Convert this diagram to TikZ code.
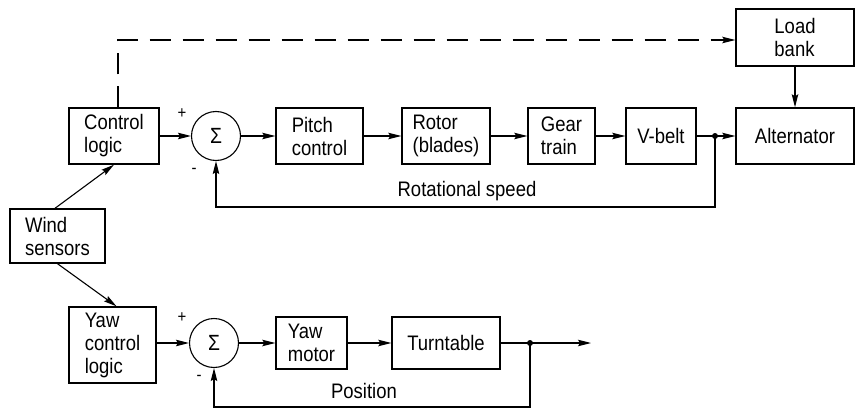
\documentclass[tikz,border=0pt]{standalone}
\usepackage{fontspec}
\setmainfont{Liberation Sans}[FakeStretch=0.88]
\usetikzlibrary{arrows.meta,calc}

\tikzset{
  blk/.style={draw, line width=1.4pt, align=left, inner sep=0pt,
    font=\fontsize{21}{23}\selectfont},
  sumnode/.style={draw, circle, line width=1.1pt, minimum size=49pt, inner sep=0pt,
    font=\fontsize{22}{24}\selectfont},
  lbl/.style={font=\fontsize{21}{23}\selectfont, inner sep=0pt},
  sgn/.style={font=\fontsize{17}{19}\selectfont, inner sep=0pt},
  arr/.style={line width=1.1pt, -{Stealth[length=13pt,width=6.5pt,inset=2pt]}},
  ln/.style={line width=1.1pt},
  jdot/.style={circle, fill=black, inner sep=0pt, minimum size=6pt},
}

\begin{document}
\begin{tikzpicture}[x=1pt, y=-1pt]
\useasboundingbox (0,0) rectangle (856,409);

% upper loop: rotor speed control
\node[blk, minimum width=90pt, minimum height=56pt] (ctrl) at (114,136) {Control\\logic};
\node[sumnode] (sum1) at (216,136) {Σ};
\node[blk, minimum width=87pt, minimum height=56pt] (pitch) at (319.5,136) {Pitch\\control};
\node[blk, minimum width=88pt, minimum height=56pt] (rotor) at (446,136) {Rotor\\(blades)};
\node[blk, minimum width=67pt, minimum height=56pt] (gear) at (561.5,136) {Gear\\train};
\node[blk, minimum width=70pt, minimum height=56pt] (vbelt) at (661,136) {V-belt};
\node[blk, minimum width=118pt, minimum height=56pt] (alt) at (795,136) {Alternator};
\node[blk, minimum width=118pt, minimum height=57pt] (load) at (795,37.5) {Load\\bank};
\node[jdot] (dot1) at (715,136) {};
\coordinate (fb1) at (0,207);

% sensors
\node[blk, minimum width=95pt, minimum height=54pt] (wind) at (57.5,236) {Wind\\sensors};

% lower loop: yaw control
\node[blk, minimum width=87pt, minimum height=76pt] (yawctl) at (112.5,345) {Yaw\\control\\logic};
\node[sumnode] (sum2) at (214,343) {Σ};
\node[blk, minimum width=71pt, minimum height=52pt] (yawmot) at (311.5,343) {Yaw\\motor};
\node[blk, minimum width=108pt, minimum height=52pt] (turn) at (446,343) {Turntable};
\node[jdot] (dot2) at (530,343) {};
\coordinate (out) at (591,343);
\coordinate (fb2) at (0,407);

% forward paths, upper loop
\draw[arr] (ctrl.east) -- (sum1.west);
\draw[arr] (sum1.east) -- (pitch.west);
\draw[arr] (pitch.east) -- (rotor.west);
\draw[arr] (rotor.east) -- (gear.west);
\draw[arr] (gear.east) -- (vbelt.west);
\draw[ln] (vbelt.east) -- (dot1.center);
\draw[arr] (dot1.center) -- (alt.west);
\draw[arr] (load.south) -- (alt.north);
\draw[arr, dash pattern=on 21pt off 12pt]
  ([xshift=4pt]ctrl.north) |- ([yshift=-2.5pt]load.west);

% speed feedback
\draw[arr] (dot1.center) -- (dot1 |- fb1) -| (sum1.south);
\node[lbl] at (467,191) {Rotational speed};

% sensor links
\draw[arr] ([xshift=-2.5pt]wind.north) -- (ctrl.south);
\draw[arr] (wind.south) -- ([xshift=4pt]yawctl.north);

% forward paths, lower loop
\draw[arr] (yawctl.east |- sum2) -- (sum2.west);
\draw[arr] (sum2.east) -- (yawmot.west);
\draw[arr] (yawmot.east) -- (turn.west);
\draw[ln] (turn.east) -- (dot2.center);
\draw[arr] (dot2.center) -- (out);

% position feedback
\draw[arr] (dot2.center) -- (dot2 |- fb2) -| (sum2.south);
\node[lbl] at (364,391) {Position};

% summing junction signs
\node[sgn] at (182,114) {+};
\node[sgn] at (194,171) {-};
\node[sgn] at (182,318) {+};
\node[sgn] at (199,378) {-};
\end{tikzpicture}
\end{document}
